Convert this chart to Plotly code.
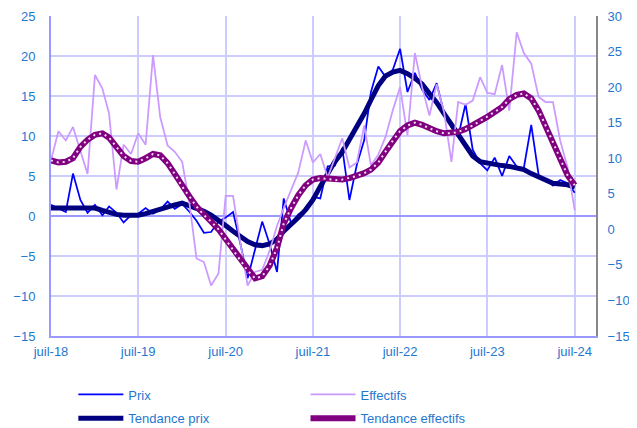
import pandas as pd
import plotly.graph_objects as go

# monthly observations, juil-18 .. juil-24
months = pd.date_range("2018-07-01", periods=73, freq="MS")

prix = [
    1.4, 0.9, 0.5, 5.3, 2.0, 0.4, 1.4, 0.1, 1.2, 0.4, -0.8, 0.1, 0.3, 1.0, 0.3,
    0.8, 1.8, 0.9, 1.5, 0.5, -0.6, -2.1, -2.0, -0.7, -0.2, 0.5, -3.5, -7.8, -4.0,
    -0.7, -3.5, -7.0, 2.2, -0.9, 0.2, 0.8, 2.4, 2.2, 6.2, 6.3, 8.5, 2.0, 6.4,
    9.5, 15.5, 18.7, 17.4, 18.3, 20.9, 15.5, 17.9, 15.8, 14.5, 16.6, 12.9, 11.1,
    9.9, 14.0, 8.3, 6.6, 5.7, 7.3, 5.0, 7.5, 6.2, 6.0, 11.4, 5.1, 4.6, 3.8, 4.5,
    4.1, 2.9,
]

effectifs = [
    9.7, 13.8, 12.5, 14.4, 11.0, 7.8, 21.7, 19.8, 16.3, 5.6, 11.9, 10.6, 13.5,
    11.9, 24.5, 15.8, 11.8, 10.9, 9.5, 3.5, -4.1, -4.6, -7.9, -6.2, 4.7, 4.7,
    -2.0, -7.9, -6.0, -5.7, -3.0, 0.5, 3.0, 5.5, 8.0, 12.5, 9.4, 10.6, 7.3, 10.0,
    12.8, 8.7, 9.4, 14.6, 9.0, 10.5, 13.0, 16.8, 20.0, 13.2, 24.8, 20.0, 16.0,
    20.4, 16.5, 9.5, 17.9, 17.5, 18.1, 21.4, 19.2, 19.0, 23.1, 16.7, 27.7, 24.8,
    23.3, 18.6, 17.9, 17.9, 12.5, 8.7, 2.7,
]

tendance_prix = [
    1.0, 1.0, 1.0, 1.0, 1.0, 1.0, 1.0, 0.7, 0.4, 0.2, 0.1, 0.05, 0.1, 0.3, 0.6,
    0.9, 1.2, 1.4, 1.6, 1.3, 1.0, 0.6, 0.1, -0.5, -1.2, -1.9, -2.6, -3.2, -3.6,
    -3.7, -3.5, -2.9, -1.9, -1.1, -0.2, 0.8, 2.0, 3.7, 5.2, 6.8, 8.0, 9.5, 11.0,
    12.8, 14.5, 16.3, 17.5, 18.0, 18.2, 17.8, 17.2, 16.5, 15.3, 14.2, 12.8, 11.4,
    10.0, 8.6, 7.5, 6.8, 6.6, 6.4, 6.3, 6.2, 6.0, 5.8, 5.3, 4.9, 4.5, 4.1, 4.0,
    3.9, 3.6,
]

tendance_effectifs = [
    9.7, 9.4, 9.5, 10.0, 11.6, 12.6, 13.3, 13.5, 12.9, 11.6, 10.3, 9.6, 9.5,
    10.0, 10.6, 10.4, 9.3, 7.8, 6.0, 4.6, 3.2, 2.0, 1.1, 0.0, -1.4, -2.8, -4.3,
    -5.8, -6.9, -6.6, -5.1, -2.6, 0.8, 3.0, 4.8, 6.2, 7.0, 7.2, 7.1, 6.9, 7.0,
    7.2, 7.5, 7.9, 8.4, 9.4, 10.9, 12.5, 13.8, 14.6, 15.0, 14.7, 14.2, 13.8,
    13.5, 13.5, 13.7, 14.1, 14.6, 15.2, 15.8, 16.5, 17.2, 18.3, 18.9, 19.1, 18.4,
    16.7, 14.6, 12.3, 10.0, 7.6, 6.2,
]

tick_dates = ["2018-07-01", "2019-07-01", "2020-07-01", "2021-07-01",
              "2022-07-01", "2023-07-01", "2024-07-01"]
tick_labels = ["juil-18", "juil-19", "juil-20", "juil-21",
               "juil-22", "juil-23", "juil-24"]

txt_blue = "#1F77D0"
grid = "#CCCCFF"

fig = go.Figure()
fig.add_trace(go.Scatter(x=months, y=prix, name="Prix", mode="lines",
                         legend="legend", legendgroup="p",
                         line=dict(color="#0000FF", width=1.75)))
fig.add_trace(go.Scatter(x=months, y=effectifs, name="Effectifs", mode="lines",
                         yaxis="y2", legend="legend2", legendgroup="e",
                         line=dict(color="#CC99FF", width=1.75)))
fig.add_trace(go.Scatter(x=months, y=tendance_prix, name="Tendance prix",
                         mode="lines", legend="legend", legendgroup="tp",
                         line=dict(color="#000080", width=5)))
fig.add_trace(go.Scatter(x=months, y=tendance_effectifs, name="Tendance effectifs",
                         mode="lines", yaxis="y2", legend="legend2",
                         legendgroup="te", line=dict(color="#800080", width=6)))
# light dots drawn on top of the purple trend
fig.add_trace(go.Scatter(x=months, y=tendance_effectifs, mode="lines", yaxis="y2",
                         line=dict(color="#F2DDF2", width=2, dash="2px,4px"),
                         showlegend=False, hoverinfo="skip",
                         legend="legend2", legendgroup="te"))

leg_common = dict(
    orientation="v", xanchor="left", y=-0.136, yanchor="top",
    itemwidth=45, traceorder="grouped", tracegroupgap=4,
    font=dict(size=13, color=txt_blue), bgcolor="rgba(0,0,0,0)",
)

# the page sits 8px inside the window, so the figure is shifted by that
fig.update_layout(
    width=629, height=436,
    margin=dict(l=43, r=41, t=8, b=108),
    plot_bgcolor="white", paper_bgcolor="white",
    font=dict(family="Liberation Sans, Arial", size=13, color=txt_blue),
    xaxis=dict(
        type="date", range=["2018-07-01", "2024-09-28"],
        tickvals=tick_dates, ticktext=tick_labels,
        showgrid=True, gridcolor=grid, gridwidth=2,
        showline=True, linecolor="#9999FF", linewidth=2,
        ticks="", ticklabelstandoff=2, automargin=False,
    ),
    yaxis=dict(
        range=[-15, 25], dtick=5, tick0=0,
        showgrid=True, gridcolor=grid, gridwidth=2,
        zeroline=True, zerolinecolor="#9999FF", zerolinewidth=2,
        showline=True, linecolor="#9999FF", linewidth=2,
        ticks="", ticklabelstandoff=11, automargin=False,
    ),
    yaxis2=dict(
        range=[-15, 30], dtick=5, tick0=0, overlaying="y", side="right",
        showgrid=False, zeroline=False,
        showline=True, linecolor="#888888", linewidth=2,
        ticks="", ticklabelstandoff=7, automargin=False,
    ),
    legend=dict(x=0.041, **leg_common),
    legend2=dict(x=0.467, **leg_common),
    showlegend=True,
)

fig.write_html("out.html")
